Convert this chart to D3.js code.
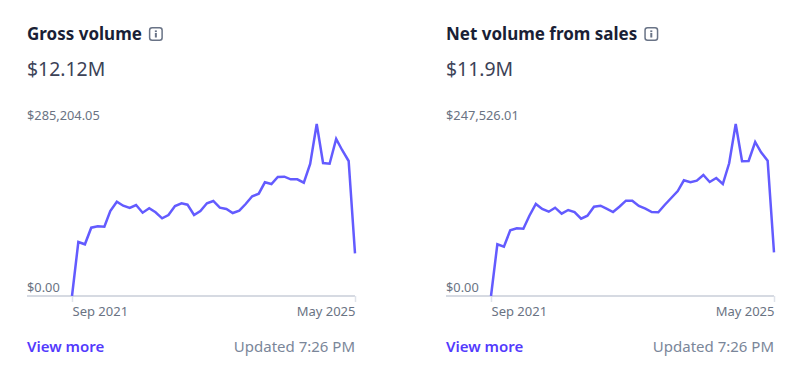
<!DOCTYPE html>
<html>
<head>
<meta charset="utf-8">
<script src="https://cdn.jsdelivr.net/npm/d3@7"></script>
<style>
	html, body { margin: 0; padding: 0; background: #fff; }
	svg { display: block; }
	text { font-family: "Noto Sans", sans-serif; }
	.axis path.domain { stroke: #c9ced9; stroke-width: 1.5; }
	.axis line { stroke: #dfe3ea; stroke-width: 1.5; }
	.axis text { font-size: 13px; fill: #6a7383; }
</style>
</head>
<body>
<div id="graphic"></div>
<script>
const months = ['2021-09','2021-10','2021-11','2021-12','2022-01','2022-02','2022-03','2022-04','2022-05','2022-06','2022-07','2022-08','2022-09','2022-10','2022-11','2022-12','2023-01','2023-02','2023-03','2023-04','2023-05','2023-06','2023-07','2023-08','2023-09','2023-10','2023-11','2023-12','2024-01','2024-02','2024-03','2024-04','2024-05','2024-06','2024-07','2024-08','2024-09','2024-10','2024-11','2024-12','2025-01','2025-02','2025-03','2025-04','2025-05'];

const grossValues = [0,89540,85730,113250,115580,114910,140950,156370,149740,145920,150900,138130,145420,138790,128840,134310,149240,153710,151390,134310,140950,153710,157530,146420,144260,137630,141440,152550,165320,169640,188540,185720,197330,197820,193510,193510,187870,218880,285204.05,220540,219380,260340,242100,223860,70800];
const netValues = [0,74400,70950,94550,97430,96850,115130,132400,125200,121320,127070,118440,123760,120880,111240,115560,128510,129950,125630,120880,128510,137150,137150,129520,125630,120880,120450,130960,141030,151110,166500,163620,165930,174130,164060,169810,161180,190970,247526.01,193850,194280,221620,206800,194710,62890];

const titles = ['Gross volume', 'Net volume from sales'];
const totals = ['$12.12M', '$11.9M'];
const maxLabels = ['$285,204.05', '$247,526.01'];
const xTickLabels = ['Sep 2021', 'May 2025'];
const seriesValues = [grossValues, netValues];
const linkText = 'View more';
const updatedText = 'Updated 7:26 PM';

const parseMonth = d3.utcParse('%Y-%m');
const dates = months.map(parseMonth);

const width = 799, height = 391;
const panelX = [27, 446];
const plot = { left: 45, right: 328, top: 124, bottom: 296 };

const svg = d3.select('#graphic').append('svg')
	.attr('width', width)
	.attr('height', height);

titles.forEach((title, i) => {
	const g = svg.append('g').attr('transform', `translate(${panelX[i]},0)`);
	const values = seriesValues[i];

	const x = d3.scaleUtc()
		.domain(d3.extent(dates))
		.range([plot.left, plot.right]);
	const y = d3.scaleLinear()
		.domain([0, d3.max(values)])
		.range([plot.bottom, plot.top]);

	// header
	const titleText = g.append('text')
		.attr('x', 0)
		.attr('y', 40)
		.attr('font-size', 17)
		.attr('font-weight', 700)
		.attr('fill', '#1a1f36')
		.text(title);

	const iconX = titleText.node().getComputedTextLength() + 7;
	const icon = g.append('g').attr('transform', `translate(${iconX},27)`);
	icon.append('rect')
		.attr('x', 0.75).attr('y', 0.75)
		.attr('width', 12.5).attr('height', 12.5)
		.attr('rx', 2.5)
		.attr('fill', 'none')
		.attr('stroke', '#697386')
		.attr('stroke-width', 1.5);
	icon.append('rect')
		.attr('x', 6).attr('y', 6)
		.attr('width', 2).attr('height', 4.5)
		.attr('fill', '#697386');
	icon.append('rect')
		.attr('x', 6).attr('y', 3.4)
		.attr('width', 2).attr('height', 1.7)
		.attr('fill', '#697386');

	g.append('text')
		.attr('x', 0)
		.attr('y', 75.5)
		.attr('font-size', 19.4)
		.attr('fill', '#3c4257')
		.text(totals[i]);

	// axis
	const xAxis = d3.axisBottom(x)
		.tickValues(d3.extent(dates))
		.tickSize(6)
		.tickSizeOuter(0)
		.tickPadding(5)
		.tickFormat((d, j) => xTickLabels[j]);

	const axisG = g.append('g')
		.attr('class', 'axis')
		.attr('transform', `translate(0,${plot.bottom})`)
		.call(xAxis);

	axisG.select('.domain')
		.attr('d', `M0,0H${plot.right}`);
	axisG.selectAll('.tick text')
		.attr('text-anchor', (d, j) => j === 0 ? 'start' : 'end');

	// y labels sit just above the value they mark
	g.selectAll('.y-label')
		.data([0, d3.max(values)])
		.join('text')
		.attr('class', 'y-label')
		.attr('x', 0)
		.attr('y', d => y(d) - 4)
		.attr('font-size', 12.8)
		.attr('fill', '#6a7383')
		.text((d, j) => j === 0 ? '$0.00' : maxLabels[i]);

	const line = d3.line()
		.x((d, j) => x(dates[j]))
		.y(d => y(d));

	g.append('path')
		.datum(values)
		.attr('d', line)
		.attr('fill', 'none')
		.attr('stroke', '#635bff')
		.attr('stroke-width', 2.5);

	// footer
	g.append('text')
		.attr('x', 0)
		.attr('y', 352)
		.attr('font-size', 15)
		.attr('font-weight', 600)
		.attr('fill', '#533afd')
		.text(linkText);

	g.append('text')
		.attr('x', plot.right)
		.attr('y', 352)
		.attr('text-anchor', 'end')
		.attr('font-size', 15)
		.attr('fill', '#7a8699')
		.text(updatedText);
});
</script>
</body>
</html>
